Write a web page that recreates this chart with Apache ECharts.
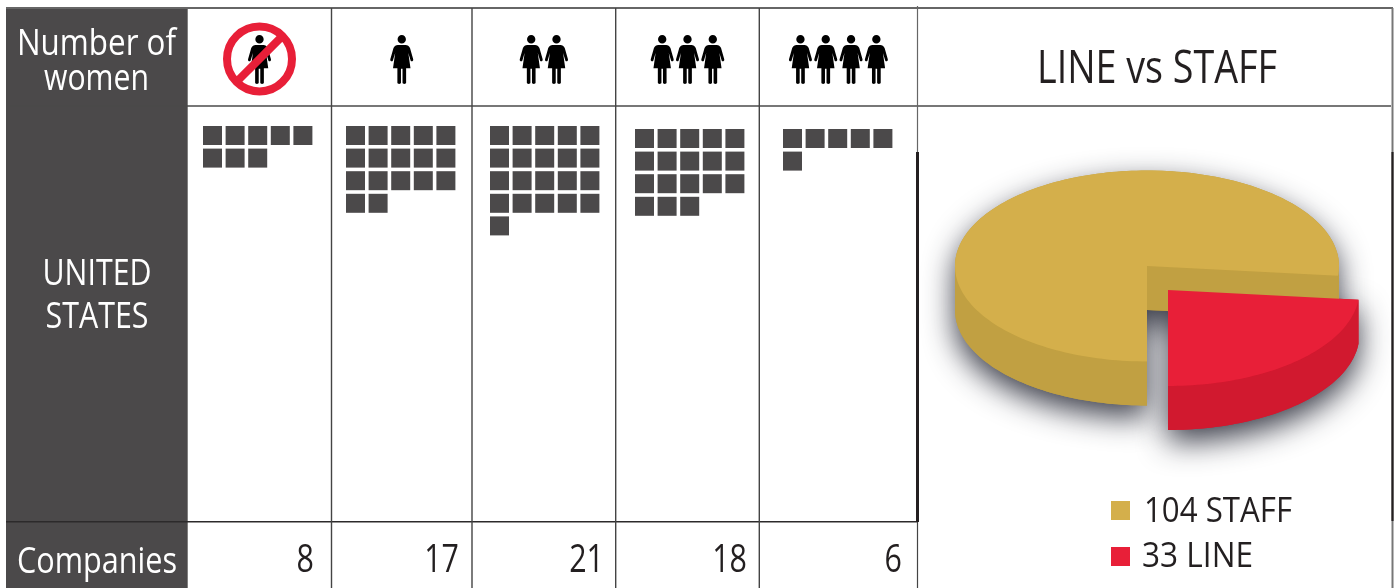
<!DOCTYPE html>
<html><head><meta charset="utf-8">
<style>html,body{margin:0;padding:0;background:#fff}#c{width:1399px;height:588px}</style>
<script src="https://cdn.jsdelivr.net/npm/echarts@6/dist/echarts.min.js"></script>
</head><body><div id="c"></div>
<script>
// ---- data ----
const womenCounts = [0, 1, 2, 3, 4];
const companies = [8, 17, 21, 18, 6];
const pieNames = ['STAFF', 'LINE'];
const pieValues = [104, 33];
const headerLines = ['Number of', 'women'];
const regionLines = ['UNITED', 'STATES'];
const rowLabel = 'Companies';
const pieTitle = 'LINE vs STAFF';

// ---- style / layout ----
const DARK = '#4b494a', GOLD = '#d4af4b', GOLD_S = '#c1a042', RED = '#e81f38', RED_S = '#d1192f';
const FONT = '"Open Sans","Noto Sans",sans-serif';
const colEdges = [187.5, 331.5, 472, 615.7, 759.3, 917.5];
const wafflePos = [[201.2,124.2],[344.2,124.2],[488.2,124.2],[633.2,127.2],[781.2,127.2]];
const PITCH = 22.6, SQ = 19;
const WOMAN = 'path://M12 0a4.3 4.3 0 1 1 0 8.6a4.3 4.3 0 1 1 0-8.6zM8 10L16 10C18 10 19.5 11 20.5 13L23.8 24C24.2 26 22 27 21.2 25.5L18.8 18L21 33L16.5 33L16.5 47.5C16.5 49 12.8 49 12.8 47.5L12.8 33.5L11.2 33.5L11.2 47.5C11.2 49 7.5 49 7.5 47.5L7.5 33L3 33L5.2 18L2.8 25.5C2 27 -.2 26 .2 24L3.5 13C4.5 11 6 10 8 10z';

const grids = [], xAxes = [], yAxes = [], series = [];
function addGrid(left, top, width, height, xr, yr) {
  grids.push({left, top, width, height, containLabel: false});
  xAxes.push({type: 'value', min: xr[0], max: xr[1], show: false, gridIndex: grids.length - 1});
  yAxes.push({type: 'value', min: yr[0], max: yr[1], inverse: true, show: false, gridIndex: grids.length - 1});
  return grids.length - 1;
}
companies.forEach((n, i) => {
  const g = addGrid(wafflePos[i][0], wafflePos[i][1], PITCH * 5, PITCH * 6, [0, 5], [0, 6]);
  const pts = [];
  for (let k = 0; k < n; k++) pts.push([k % 5 + 0.5, Math.floor(k / 5) + 0.5]);
  series.push({type: 'scatter', xAxisIndex: g, yAxisIndex: g, symbol: 'rect', symbolSize: SQ,
    itemStyle: {color: DARK, opacity: 1}, silent: true, data: pts, z: 3});
  const c = (colEdges[i] + colEdges[i + 1]) / 2, p = 25.3;
  const h = addGrid(c - p * 2.5, 8, p * 5, 98, [-2.5, 2.5], [0, 1]);
  const w = womenCounts[i], ip = [];
  for (let k = 0; k < Math.max(w, 1); k++) ip.push([k - (Math.max(w, 1) - 1) / 2, 0.525]);
  series.push({type: 'scatter', xAxisIndex: h, yAxisIndex: h, symbol: WOMAN, symbolSize: [23, 49],
    itemStyle: {color: '#000', opacity: 1}, silent: true, data: ip, z: 3});
  if (w === 0) {
    series.push({type: 'scatter', xAxisIndex: h, yAxisIndex: h, symbol: 'circle', symbolSize: 65,
      itemStyle: {color: 'rgba(0,0,0,0)', borderColor: RED, borderWidth: 8, opacity: 1}, silent: true, data: [[0, 0.52]], z: 4});
    series.push({type: 'scatter', xAxisIndex: h, yAxisIndex: h, symbol: 'rect', symbolSize: [66, 8], symbolRotate: 45,
      itemStyle: {color: RED, opacity: 1}, silent: true, data: [[0, 0.52]], z: 4});
  }
});

// ---- faux 3D pie ----
const total = pieValues[0] + pieValues[1];
const lineSweep = pieValues[1] / total * 360 * 0.97;
const a0 = 90 - lineSweep;
const geo = [
  {cx: 1147, cy: 266, rx: 192, ry: 95.5, d: 44},
  {cx: 1168, cy: 290, rx: 191.5, ry: 96, d: 44}
];
function arc(g, from, to, dy) {
  const out = [], n = Math.max(2, Math.ceil(Math.abs(to - from) / 1.5));
  for (let i = 0; i <= n; i++) {
    const t = (from + (to - from) * i / n) * Math.PI / 180;
    out.push([g.cx + g.rx * Math.cos(t), g.cy + g.ry * Math.sin(t) + dy]);
  }
  return out;
}
const poly = (points, style) => ({type: 'polygon', shape: {points}, style});
function shadowItem(params) {
  const i = params.dataIndex, g = geo[i];
  const shadow = {shadowBlur: 30, shadowColor: 'rgba(40,42,55,0.9)', shadowOffsetX: 0, shadowOffsetY: 12};
  if (i === 0) {
    const pts = arc(g, 90, 180, g.d).concat(arc(g, 180, 360 + a0, 0), arc(g, a0, a0, g.d).slice(0, 1), [[g.cx, g.cy + g.d]]);
    return poly(pts, Object.assign({fill: GOLD_S}, shadow));
  }
  const pts = [[g.cx, g.cy]].concat(arc(g, a0, a0, 0).slice(0, 1), arc(g, a0, 90, g.d));
  return poly(pts, Object.assign({fill: RED_S}, shadow));
}
function faceItem(params) {
  const i = params.dataIndex, g = geo[i];
  const side = (f, t, c) => poly(arc(g, f, t, 0).concat(arc(g, f, t, g.d).reverse()), {fill: c});
  if (i === 0) {
    const edge = arc(g, a0, a0, 0)[0];
    return {type: 'group', children: [
      side(90, 180, GOLD_S),
      side(0, a0, GOLD_S),
      poly([[g.cx, g.cy], edge, [edge[0], edge[1] + g.d], [g.cx, g.cy + g.d]], {fill: GOLD_S}),
      poly([[g.cx, g.cy]].concat(arc(g, 90, 360 + a0, 0)), {fill: GOLD})
    ]};
  }
  return {type: 'group', children: [
    side(a0, 90, RED_S),
    poly([[g.cx, g.cy]].concat(arc(g, a0, 90, 0)), {fill: RED})
  ]};
}
const pieData = pieNames.map((name, i) => ({name, value: pieValues[i]}));
series.push({type: 'custom', coordinateSystem: 'none', renderItem: shadowItem, data: pieData, silent: true, z: 1});
series.push({type: 'custom', coordinateSystem: 'none', renderItem: faceItem, data: pieData, silent: true, z: 2});

// ---- table furniture ----
const line = (x1, y1, x2, y2, stroke, lineWidth) => ({type: 'line', z: 1, silent: true,
  shape: {x1, y1, x2, y2}, style: {stroke, lineWidth}});
const measureCtx = document.createElement('canvas').getContext('2d');
const txt = (text, x, y, size, fill, align, targetW) => {
  measureCtx.font = size + 'px ' + FONT;
  const sx = targetW ? targetW / measureCtx.measureText(text).width : 0.8;
  return {type: 'text', z: 5, silent: true, x, y, scaleX: sx,
    style: {text, fontFamily: FONT, fontSize: size, fill, align: align || 'center', verticalAlign: 'middle'}};
};
const rect = (x, y, width, height, fill) => ({type: 'rect', z: 0, silent: true, shape: {x, y, width, height}, style: {fill}});

const graphics = [
  rect(6, 8, 181.7, 580, DARK),
  line(6, 8, 1393, 8, '#666', 2),
  line(10, 106, 1391, 106, '#4a4a4a', 1.6),
  line(6, 521.7, 918, 521.7, '#2c2a2b', 1.6)
];
colEdges.slice(1, 5).forEach(x => graphics.push(line(x, 8, x, 588, '#444', 1.4)));
graphics.push(line(917.5, 6, 917.5, 152, '#666', 1.2), line(917.5, 152, 917.5, 522, '#231f20', 3), line(917.5, 522, 917.5, 588, '#444', 1.2));
graphics.push(line(1392.5, 8, 1392.5, 152, '#777', 2), line(1392.5, 152, 1392.5, 521, '#231f20', 2.4), line(1392.5, 521, 1392.5, 588, '#777', 2));

const headW = [159, 105], regW = [109, 103], headY = [44, 79], regY = [274, 317];
headerLines.forEach((t, i) => graphics.push(txt(t, 96.5, headY[i], 37, '#fff', 'center', headW[i])));
regionLines.forEach((t, i) => graphics.push(txt(t, 97, regY[i], 37, '#fff', 'center', regW[i])));
graphics.push(txt(rowLabel, 97, 562, 37, '#fff', 'center', 160));
const numRight = [314, 459, 604, 747, 902];
companies.forEach((n, i) => graphics.push(txt(String(n), numRight[i], 561, 38, '#231f20', 'right')));
graphics.push(txt(pieTitle, 1157, 70, 46, '#231f20', 'center', 240));
const legendY = [510.5, 556.5], legendTextY = [512.5, 557.5], legendC = [GOLD, RED], legW = [148, 111];
pieNames.forEach((n, i) => {
  graphics.push(rect(1111, legendY[i] - 9.5, 19, 19, legendC[i]));
  graphics.push(txt(pieValues[i] + ' ' + n, i === 0 ? 1144 : 1142, legendTextY[i], 35, '#231f20', 'left', legW[i]));
});

echarts.init(document.getElementById('c'), null, {renderer: 'canvas'}).setOption({
  animation: false, backgroundColor: '#fff',
  grid: grids, xAxis: xAxes, yAxis: yAxes, series,
  graphic: {elements: graphics}
});
</script></body></html>
